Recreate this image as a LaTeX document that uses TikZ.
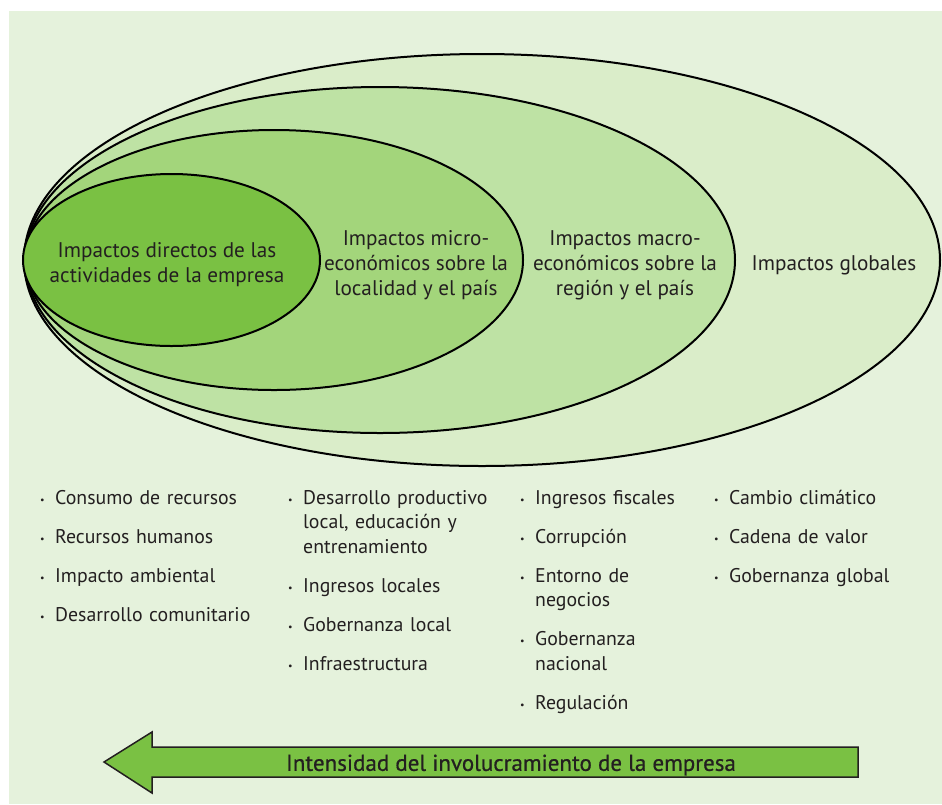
\documentclass[tikz,border=0pt]{standalone}
\usepackage{fontspec}
\setmainfont{PT Sans}
\newfontfamily\grueso[FakeBold=0.6]{PT Sans}
\definecolor{fondo}{HTML}{E5F2DC}
\definecolor{anilloGlobal}{HTML}{DAEDC9}
\definecolor{anilloMacro}{HTML}{BEE2A4}
\definecolor{anilloMicro}{HTML}{A3D57B}
\definecolor{verde}{HTML}{7AC143}
\definecolor{texto}{HTML}{231F20}
\newcommand\vineta[1]{\noindent\hangindent=15pt\hangafter=1\makebox[15pt][l]{\raisebox{1pt}{\fontsize{10}{10}\selectfont\textbullet}}#1\par\vskip14.5pt}
\tikzset{
  orbita/.style={draw=black, line width=2pt},
  rotulo/.style={align=center, text=texto, inner sep=0, font=\fontsize{21.2}{25}\selectfont},
  lista/.style={anchor=north west, align=left, inner sep=0, text=texto, text width=#1, font=\fontsize{19.8}{24.5}\selectfont}
}
\begin{document}
\begin{tikzpicture}[x=1pt,y=-1pt]
    \useasboundingbox (0,0) rectangle (942,804);
    \fill[white] (0,0) rectangle (942,804);
    \fill[fondo] (9,11) rectangle (942,804);
    \filldraw[orbita, fill=anilloGlobal] (482,260) ellipse [x radius=458, y radius=206];
    \filldraw[orbita, fill=anilloMacro] (380,260) ellipse [x radius=355, y radius=173];
    \filldraw[orbita, fill=anilloMicro] (274,260) ellipse [x radius=249, y radius=130];
    \filldraw[orbita, fill=verde] (171.5,260) ellipse [x radius=148.5, y radius=86];
    \node[rotulo] (directos) at (167,265) {Impactos directos de las\\actividades de la empresa};
    \node[rotulo] (micro) at (416,265) {Impactos micro-\\económicos sobre la\\localidad y el país};
    \node[rotulo] (macro) at (625,265) {Impactos macro-\\económicos sobre la\\región y el país};
    \node[rotulo] (globales) at (834,265) {Impactos globales};
    \node[lista=240pt] (empresa) at (40,490) {\vineta{Consumo de recursos}\vineta{Recursos humanos}\vineta{Impacto ambiental}\vineta{Desarrollo comunitario}};
    \node[lista=225pt] (local) at (288,490) {\vineta{Desarrollo productivo\newline local, educación y\newline entrenamiento}\vineta{Ingresos locales}\vineta{Gobernanza local}\vineta{Infraestructura}};
    \node[lista=190pt] (nacional) at (520,490) {\vineta{Ingresos fiscales}\vineta{Corrupción}\vineta{Entorno de\newline negocios}\vineta{Gobernanza\newline nacional}\vineta{Regulación}};
    \node[lista=210pt] (mundial) at (714,490) {\vineta{Cambio climático}\vineta{Cadena de valor}\vineta{Gobernanza global}};
    \filldraw[fill=verde, draw=texto, line width=1.5pt] (104,762) -- (152,732) -- (152,747) -- (858,747) -- (858,777) -- (152,777) -- (152,793) -- cycle;
    \node[text=texto, font=\grueso\fontsize{23}{23}\selectfont] (intensidad) at (511,765) {Intensidad del involucramiento de la empresa};
\end{tikzpicture}
\end{document}
